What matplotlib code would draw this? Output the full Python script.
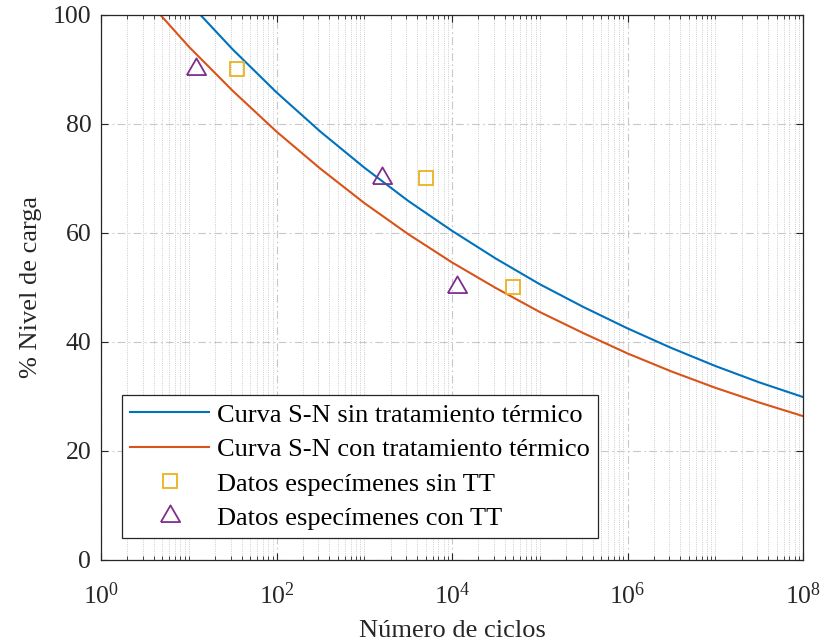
import numpy as np
import matplotlib
matplotlib.use("Agg")
import matplotlib.pyplot as plt
from matplotlib.ticker import LogLocator, NullFormatter, FixedLocator

plt.rcParams['font.family'] = ['Liberation Serif', 'DejaVu Serif']
plt.rcParams['mathtext.fontset'] = 'custom'
plt.rcParams['mathtext.rm'] = 'Liberation Serif'

# curve points (cycles, % load level)
ciclos_sin = [1e1, 3.16e1, 1e2, 3.16e2, 1e3, 3.16e3, 1e4, 3.16e4, 1e5, 3.16e5,
              1e6, 3.16e6, 1e7, 3.16e7, 1e8]
carga_sin = [102.3, 93.7, 85.8, 78.6, 72.0, 65.9, 60.4, 55.3, 50.6, 46.4,
             42.5, 38.9, 35.6, 32.6, 29.9]

ciclos_con = [3.16e0, 1e1, 3.16e1, 1e2, 3.16e2, 1e3, 3.16e3, 1e4, 3.16e4, 1e5,
              3.16e5, 1e6, 3.16e6, 1e7, 3.16e7, 1e8]
carga_con = [103.2, 94.2, 86.1, 78.6, 71.8, 65.5, 59.8, 54.6, 49.9, 45.5,
             41.6, 37.9, 34.6, 31.6, 28.9, 26.4]

# specimen data
datos_sin_n = [35, 5000, 50000]
datos_sin_s = [90, 70, 50]
datos_con_n = [12, 1600, 11500]
datos_con_s = [90, 70, 50]

# MATLAB-like equilateral triangle
tri = [(-1, -0.577), (1, -0.577), (0, 1.155), (-1, -0.577)]

fig = plt.figure(figsize=(8.22, 6.43), dpi=100)
ax = fig.add_axes([0.1229, 0.1291, 0.854, 0.8476])

ax.plot(ciclos_sin, carga_sin, color='#0072BD', lw=1.5,
        label='Curva S-N sin tratamiento térmico')
ax.plot(ciclos_con, carga_con, color='#D95319', lw=1.5,
        label='Curva S-N con tratamiento térmico')
ax.plot(datos_sin_n, datos_sin_s, ls='none', marker='s', ms=10.5, mfc='none',
        mec='#EDB120', mew=1.3, label='Datos especímenes sin TT')
ax.plot(datos_con_n, datos_con_s, ls='none', marker=tri, ms=16, mfc='none',
        mec='#7E2F8E', mew=1.3, label='Datos especímenes con TT')

ax.set_xscale('log')
ax.set_xlim(1, 1e8)
ax.set_ylim(0, 100)
ax.xaxis.set_major_locator(FixedLocator([1, 1e2, 1e4, 1e6, 1e8]))
ax.xaxis.set_minor_locator(LogLocator(base=10, subs=np.arange(1, 10), numticks=100))
ax.xaxis.set_minor_formatter(NullFormatter())
ax.set_yticks([0, 20, 40, 60, 80, 100])

ax.grid(True, which='major', color='#c8c8c8', lw=0.8, ls=(0, (7, 3, 1.5, 3)))
ax.grid(True, which='minor', axis='x', color='#bdbdbd', lw=0.6, ls=':')
ax.set_axisbelow(True)

ax.tick_params(which='both', direction='in', top=True, right=True,
               labelsize=18.5, colors='#262626')
ax.tick_params(which='major', length=5)
ax.tick_params(which='minor', length=3)
ax.tick_params(axis='x', pad=16)
ax.tick_params(axis='y', pad=7)
for s in ax.spines.values():
    s.set_color('#262626')
    s.set_linewidth(0.9)

ax.set_xlabel('Número de ciclos', fontsize=19, color='#262626', labelpad=8)
ax.set_ylabel('% Nivel de carga', fontsize=19, color='#262626', labelpad=8)

leg = ax.legend(loc='lower left', bbox_to_anchor=(0.03, 0.04), fontsize=19,
                fancybox=False, edgecolor='#262626', framealpha=1,
                handlelength=3.0, borderpad=0.3, labelspacing=0.42,
                handletextpad=0.3, borderaxespad=0)
leg.get_frame().set_linewidth(0.9)

fig.savefig('out.png', dpi=100)
